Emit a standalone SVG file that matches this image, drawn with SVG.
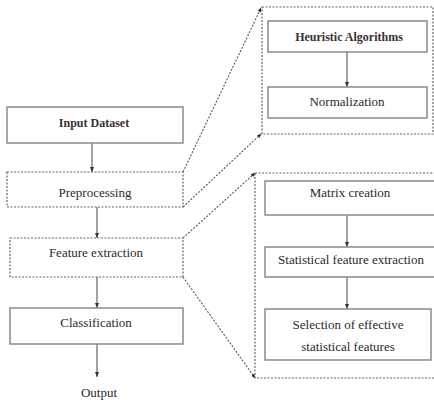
<svg xmlns="http://www.w3.org/2000/svg" width="434" height="400" viewBox="0 0 434 400">
<style>
.box{fill:#fff;stroke:#8a8a8a;stroke-width:1.5}
.dbox{fill:none;stroke:#666;stroke-width:1.2;stroke-dasharray:2 1.5}
text{font-family:'Liberation Serif','DejaVu Serif',serif;font-size:13px;fill:#2a2a2a;text-anchor:middle}
.b{font-weight:bold;font-size:12px;fill:#3a3030}
.ar{stroke:#444;stroke-width:1;fill:none}
.dl{stroke:#555;stroke-width:1.1;stroke-dasharray:2 1.5;fill:none}
</style>
<defs>
<marker id="ah" viewBox="0 0 10 10" refX="10" refY="5" markerWidth="5" markerHeight="5" orient="auto"><path d="M0,1 L10,5 L0,9 z" fill="#333"/></marker>
<marker id="dh" viewBox="0 0 10 10" refX="9" refY="5" markerWidth="4" markerHeight="4" orient="auto"><path d="M0,1 L10,5 L0,9 z" fill="#222"/></marker>
</defs>
<rect width="434" height="400" fill="#fff"/>
<g id="connectors">
<line class="ar" x1="92" y1="143" x2="92" y2="172" marker-end="url(#ah)"/>
<line class="ar" x1="97" y1="207" x2="97" y2="238" marker-end="url(#ah)"/>
<line class="ar" x1="97" y1="277" x2="97" y2="308" marker-end="url(#ah)"/>
<line class="ar" x1="97" y1="344" x2="97" y2="377" marker-end="url(#ah)"/>
<line class="ar" x1="347" y1="52" x2="347" y2="87" marker-end="url(#ah)"/>
<line class="ar" x1="347" y1="215" x2="347" y2="247" marker-end="url(#ah)"/>
<line class="ar" x1="347" y1="277" x2="347" y2="309" marker-end="url(#ah)"/>
<line class="dl" x1="183" y1="172" x2="261" y2="8" marker-end="url(#dh)"/>
<line class="dl" x1="183" y1="207" x2="261" y2="134" marker-end="url(#dh)"/>
<line class="dl" x1="183" y1="238" x2="255" y2="173" marker-end="url(#dh)"/>
<line class="dl" x1="183" y1="277" x2="255" y2="378" marker-end="url(#dh)"/>
</g>
<g id="input"><rect class="box" x="7" y="107" width="176" height="36"/><text class="b" x="94" y="127" font-family="Liberation Serif">Input Dataset</text></g>
<g id="preprocessing"><rect class="dbox" x="7" y="172" width="176" height="35"/><text x="95" y="197" font-family="Liberation Serif">Preprocessing</text></g>
<g id="feature"><rect class="dbox" x="10" y="238" width="173" height="39"/><text x="96" y="257" font-family="Liberation Serif">Feature extraction</text></g>
<g id="classification"><rect class="box" x="10" y="308" width="173" height="36"/><text x="96" y="327" font-family="Liberation Serif">Classification</text></g>
<g id="output"><text x="99" y="397" font-family="Liberation Serif">Output</text></g>
<g id="preproc-detail"><rect class="dbox" x="262" y="7" width="171" height="127"/></g>
<g id="heuristic"><rect class="box" x="268" y="21" width="159" height="31"/><text class="b" x="349" y="41" font-family="Liberation Serif">Heuristic Algorithms</text></g>
<g id="normalization"><rect class="box" x="268" y="87" width="159" height="31"/><text x="347" y="106" font-family="Liberation Serif">Normalization</text></g>
<g id="feature-detail"><rect class="dbox" x="255" y="173" width="190" height="205"/></g>
<g id="matrix"><rect class="box" x="265" y="181" width="172" height="34"/><text x="350" y="197" font-family="Liberation Serif">Matrix creation</text></g>
<g id="statistical"><rect class="box" x="265" y="247" width="172" height="30"/><text x="351" y="264" font-family="Liberation Serif">Statistical feature extraction</text></g>
<g id="selection"><rect class="box" x="265" y="309" width="166" height="51"/><text x="348" y="329" font-family="Liberation Serif">Selection of effective</text><text x="348" y="351" font-family="Liberation Serif">statistical features</text></g>
</svg>
